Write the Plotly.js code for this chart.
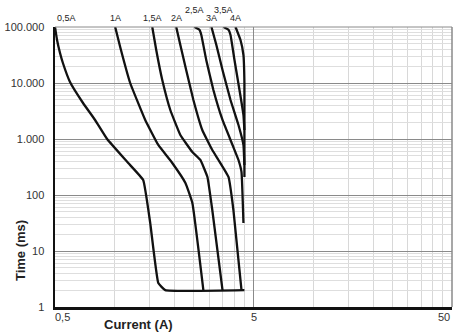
<!DOCTYPE html>
<html><head><meta charset="utf-8">
<script src="https://cdn.plot.ly/plotly-3.0.1.min.js"></script>
<style>html,body{margin:0;padding:0;background:#fff}#chart{width:456px;height:336px}</style>
</head><body><div id="chart"></div>
<script>
// Rated-current curve labels
const curveLabels = ["0,5A","1A","1,5A","2A","2,5A","3A","3,5A","4A"];
// Current (A) / time (ms) values of each curve
const cur05 = [0.5,0.512,0.530,0.548,0.595,0.692,0.796,0.915,1.169,1.391,1.509,1.657,1.797,4.5];
const t05   = [100000,58600,34350,22760,10420,4395,2185,1000,373,185,31.6,2.68,2,2];
const cur10 = [1.005,1.065,1.196,1.424,1.657,1.949,2.27,2.46,2.795];
const t10   = [100000,43950,10000,2185,782,373,164,72,2];
const cur15 = [1.545,1.618,1.735,1.905,2.14,2.46,2.70,2.93,3.10,3.49];
const t15   = [100000,38800,11310,3295,1179,586,422,210,54,2];
const cur20 = [2.04,2.14,2.29,2.49,2.76,3.10,3.33,3.74,3.96,4.35];
const t20   = [100000,47700,17070,4970,1448,636,422,210,54,2];
const cur25 = [2.52,2.67,2.73,2.89,3.14,3.49,3.92,4.20,4.35,4.45];
const t25   = [100000,89000,72000,25750,7500,2185,782,422,258,31.6];
const cur30 = [3.07,3.25,3.49,3.83,4.20,4.45,4.5];
const t30   = [100000,47700,17070,4970,1778,782,343];
const cur35 = [3.53,3.74,3.83,4.01,4.25,4.45,4.5];
const t35   = [100000,89000,72000,25750,7500,2683,1448];
const cur40 = [4.06,4.30,4.45,4.5,4.5];
const t40   = [100000,58600,31600,10000,210];

const xs = [cur05,cur10,cur15,cur20,cur25,cur30,cur35,cur40];
const ys = [t05,t10,t15,t20,t25,t30,t35,t40];

// Axis ticks
const xTickVals = [0.5,5,50];
const xTickText = ["0,5","5","50"];
const xMinorVals = [1,1.5,2,2.5,3,3.5,4,4.5,10,15,20,25,30,35,40,45];
const yTickVals = [1,10,100,1000,10000,100000];
const yTickText = ["1","10","100","1.000","10.000","100.000"];
const yMinorVals = [];
for (const d of [1,10,100,1000,10000]) for (let k=2;k<=9;k++) yMinorVals.push(k*d);

const FONT = 'Liberation Sans, Arial, sans-serif';

const traces = xs.map((x,i)=>({
  x:x, y:ys[i], type:'scatter', mode:'lines', name:curveLabels[i],
  line:{color:'#111', width:2.3, shape:'spline', smoothing:0.3}, hoverinfo:'skip'
}));

const labelY = [0,0,0,0,1,0,1,0];
const annotations = curveLabels.map((txt,i)=>({
  x: Math.log10(xs[i][0]), y:1, xref:'x', yref:'paper', text:txt, showarrow:false,
  xanchor: i===0 ? 'left' : 'center', yanchor:'bottom', yshift: labelY[i] ? 10 : 2,
  font:{family:FONT, size:9, color:'#222'}
}));
// x tick labels (edge labels sit inside the plot, as in the original)
const xAnch = ['left','center','right'];
xTickVals.forEach((v,i)=>annotations.push({
  x: Math.log10(v), y:0, xref:'x', yref:'paper', text:xTickText[i], showarrow:false,
  xanchor:xAnch[i], yanchor:'middle', yshift:-10, xshift: i===0 ? -2 : 0,
  font:{family:FONT, size:11, color:'#333'}
}));
annotations.push({text:'<b>Time (ms)</b>', xref:'paper', yref:'paper', x:-0.088, y:0.2, textangle:-90,
  showarrow:false, xanchor:'center', yanchor:'middle', font:{family:FONT, size:13, color:'#222'}});
annotations.push({text:'<b>Current (A)</b>', xref:'paper', yref:'paper', x:0.21, y:-0.064,
  showarrow:false, xanchor:'center', yanchor:'middle', font:{family:FONT, size:13, color:'#222'}});

const layout = {
  width:456, height:336, margin:{l:55,r:4,t:27,b:29},
  paper_bgcolor:'#fff', plot_bgcolor:'#fff', showlegend:false,
  font:{family:FONT, size:11, color:'#333'},
  xaxis:{type:'log', range:[Math.log10(0.5),Math.log10(50)], tickmode:'array', tickvals:xTickVals, ticktext:xTickText,
    showticklabels:false,
    showgrid:true, gridcolor:'#8a8a8a', gridwidth:1, showline:true, linecolor:'#111', linewidth:2.5,
    ticks:'', zeroline:false, fixedrange:true,
    minor:{tickmode:'array', tickvals:xMinorVals, showgrid:true, gridcolor:'#d8d8d8', gridwidth:1, ticks:''}},
  yaxis:{type:'log', range:[0,5], tickmode:'array', tickvals:yTickVals, ticktext:yTickText,
    showgrid:true, gridcolor:'#8a8a8a', gridwidth:1, showline:true, linecolor:'#111', linewidth:2.5,
    ticks:'', ticklabelstandoff:6, zeroline:false, fixedrange:true,
    minor:{tickmode:'array', tickvals:yMinorVals, showgrid:true, gridcolor:'#dedede', gridwidth:1, ticks:''}},
  shapes:[
    {type:'line', xref:'paper', yref:'paper', x0:0, x1:1, y0:1, y1:1, line:{color:'#8a8a8a', width:1}},
    {type:'line', xref:'paper', yref:'paper', x0:1, x1:1, y0:0, y1:1, line:{color:'#8a8a8a', width:1.5}}
  ],
  annotations:annotations
};
Plotly.newPlot('chart', traces, layout, {staticPlot:true, displayModeBar:false});
</script>
</body></html>
